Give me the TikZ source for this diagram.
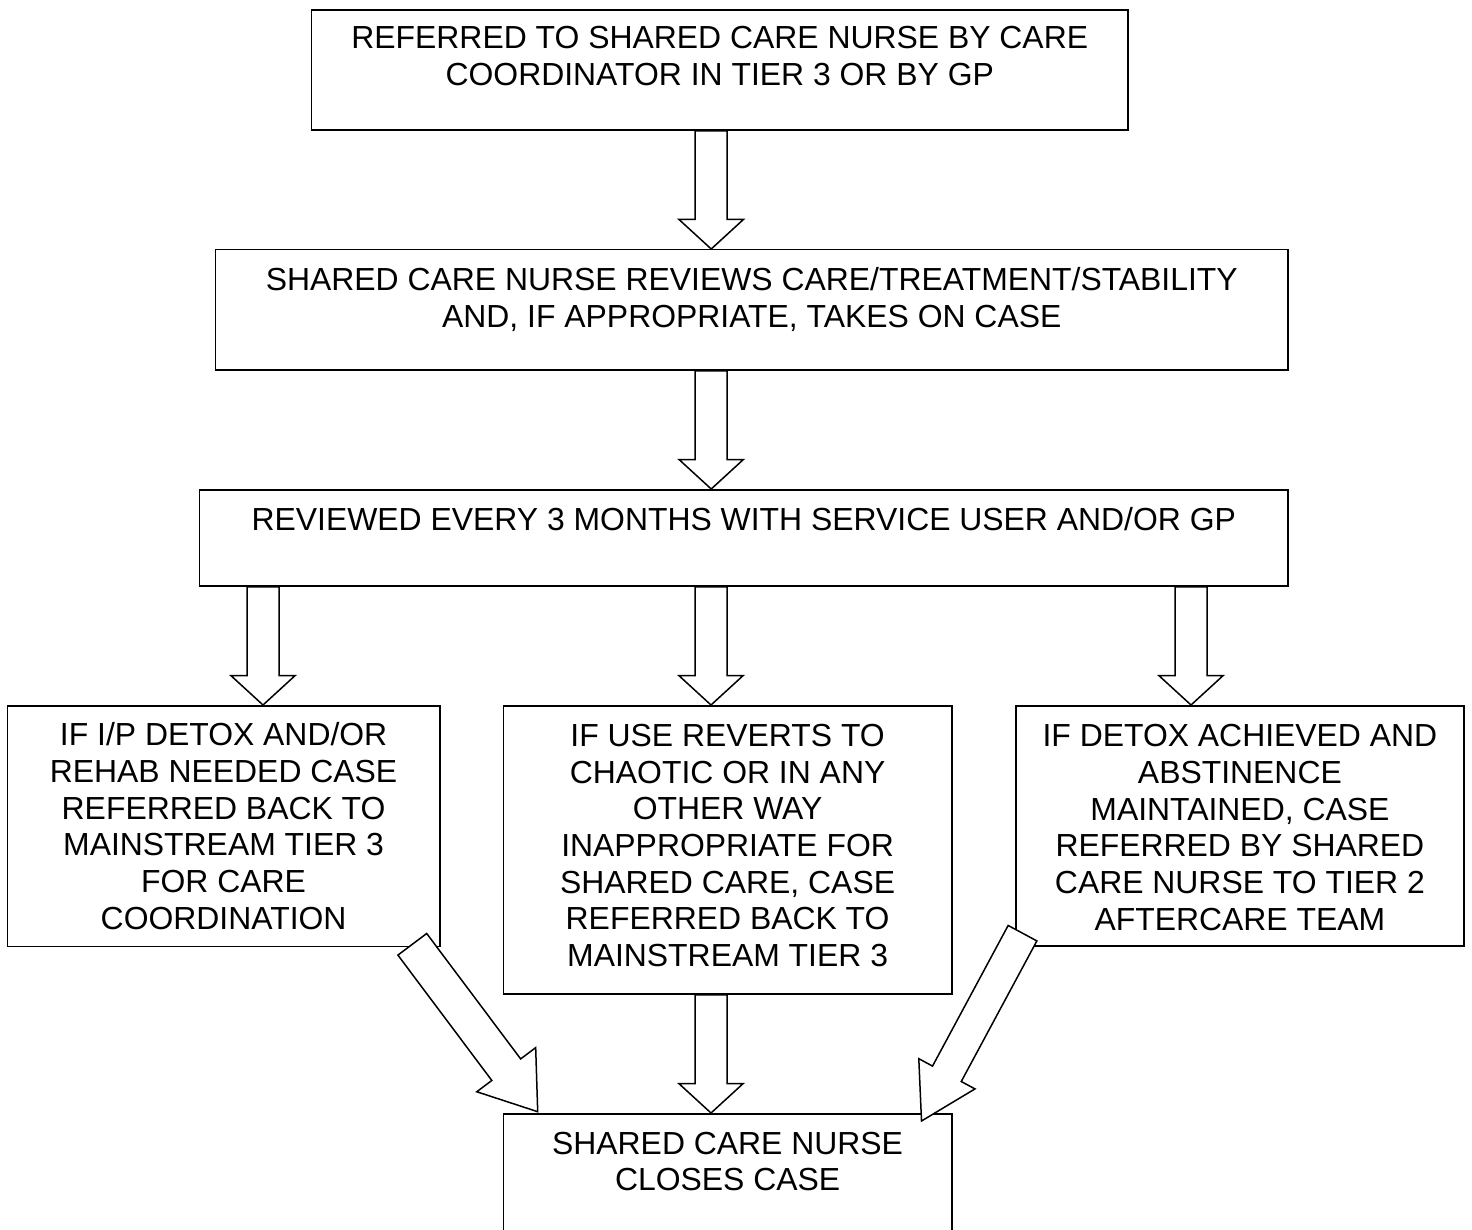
\documentclass[tikz,border=0pt]{standalone}
\usepackage{fontspec}
\setmainfont{Liberation Sans}
\usetikzlibrary{calc}
% #1 width, #2 height, #3 first-baseline offset, #4 text
\newcommand\boxtext[4]{\parbox[c][#2][t]{#1}{\centering\rule{0pt}{#3}#4}}
% block arrow: #1 tail coord, #2 tip coord, #3 shaft half width, #4 head half width, #5 head length
\newcommand\blockarr[5]{%
  \path ($(#2)!#5!(#1)$) coordinate (ba-h);
  \draw[arrowbody] ($(#1)!#3!90:(#2)$) -- ($(ba-h)!#3!90:(#2)$) -- ($(ba-h)!#4!90:(#2)$) -- (#2)
     -- ($(ba-h)!#4!-90:(#2)$) -- ($(ba-h)!#3!-90:(#2)$) -- ($(#1)!#3!-90:(#2)$) -- cycle;}
\begin{document}
\begin{tikzpicture}[x=1pt,y=-1pt,
  flowbox/.style={draw, line width=1.5pt, inner sep=0pt, anchor=north west,
    font=\fontsize{31.9pt}{36.7pt}\selectfont},
  arrowbody/.style={draw, fill=white, line width=1.5pt, line join=miter}]
\useasboundingbox (0,0) rectangle (1472,1230);
\clip (0,0) rectangle (1472,1230);

\node[flowbox] (b1) at (310.7,9.3) {\boxtext{816.6pt}{120pt}{38.5pt}{REFERRED TO SHARED CARE NURSE BY CARE\\COORDINATOR IN TIER 3 OR BY GP}};
\node[flowbox] (b2) at (214.7,249) {\boxtext{1072.6pt}{120.3pt}{41pt}{SHARED CARE NURSE REVIEWS CARE/TREATMENT/STABILITY\\AND, IF APPROPRIATE, TAKES ON CASE}};
\node[flowbox] (b3) at (198.7,489) {\boxtext{1088.6pt}{96.3pt}{40.5pt}{REVIEWED EVERY 3 MONTHS WITH SERVICE USER AND/OR GP}};
\node[flowbox] (lbox) at (6.7,705) {\boxtext{432.3pt}{240.5pt}{40pt}{IF I/P DETOX AND/OR\\REHAB NEEDED CASE\\REFERRED BACK TO\\MAINSTREAM TIER 3\\FOR CARE\\COORDINATION}};
\node[flowbox] (mbox) at (502.7,705) {\boxtext{448.3pt}{288.3pt}{40.7pt}{IF USE REVERTS TO\\CHAOTIC OR IN ANY\\OTHER WAY\\INAPPROPRIATE FOR\\SHARED CARE, CASE\\REFERRED BACK TO\\MAINSTREAM TIER 3}};
\node[flowbox] (rbox) at (1015,705) {\boxtext{448.3pt}{240pt}{41pt}{IF DETOX ACHIEVED AND\\ABSTINENCE\\MAINTAINED, CASE\\REFERRED BY SHARED\\CARE NURSE TO TIER 2\\AFTERCARE TEAM}};
\node[flowbox] (bbox) at (502.7,1113) {\boxtext{448.3pt}{160pt}{40.3pt}{SHARED CARE NURSE\\CLOSES CASE}};

% vertical connectors
\coordinate (a1s) at (711.2,0 |- b1.south);
\coordinate (a1e) at (711.2,0 |- b2.north);
\coordinate (a2s) at (711.2,0 |- b2.south);
\coordinate (a2e) at (711.2,0 |- b3.north);
\coordinate (als) at (263,0 |- b3.south);
\coordinate (ale) at (263,0 |- lbox.north);
\coordinate (ams) at (711,0 |- b3.south);
\coordinate (ame) at (711,0 |- mbox.north);
\coordinate (ars) at (1191,0 |- b3.south);
\coordinate (are) at (1191,0 |- rbox.north);
\coordinate (aos) at (711,0 |- mbox.south);
\coordinate (aoe) at (711,0 |- bbox.north);
% diagonal connectors
\coordinate (dls) at ($(lbox.south east)+(-28.2,-2.7)$);
\coordinate (dle) at ($(bbox.north west)+(35,-1.3)$);
\coordinate (drs) at ($(rbox.south west)+(7.5,-13.3)$);
\coordinate (dre) at ($(bbox.north east)+(-31,8)$);

\blockarr{a1s}{a1e}{16pt}{32.2pt}{29.5pt}
\blockarr{a2s}{a2e}{16pt}{32.2pt}{29.5pt}
\blockarr{als}{ale}{16pt}{32.2pt}{29.5pt}
\blockarr{ams}{ame}{16pt}{32.2pt}{29.5pt}
\blockarr{ars}{are}{16pt}{32.2pt}{29.5pt}
\blockarr{aos}{aoe}{16pt}{32.2pt}{29.5pt}
\blockarr{dls}{dle}{18pt}{36.8pt}{52.5pt}
\blockarr{drs}{dre}{16.3pt}{31.9pt}{53.6pt}
\end{tikzpicture}
\end{document}
